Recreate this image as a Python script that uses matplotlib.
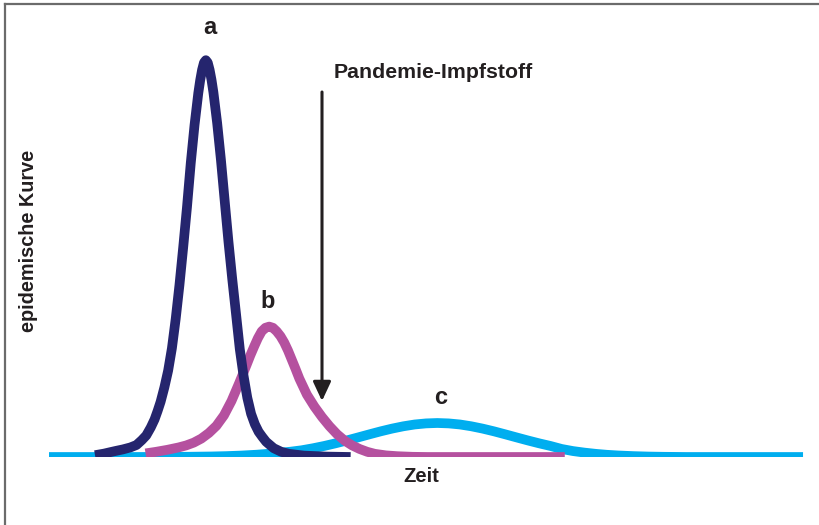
import matplotlib
matplotlib.use("Agg")
import matplotlib.pyplot as plt
from matplotlib.lines import Line2D
from matplotlib.patches import FancyArrowPatch

plt.rcParams['font.family'] = ['Liberation Sans', 'DejaVu Sans']

# Curve a (early, steep epidemic)
time_a = [6.1, 7.3, 8.1, 8.8, 9.8, 10.8, 11.6, 12.3, 12.9, 13.5,
          14.0, 14.4, 14.8, 15.3, 15.8, 16.3, 16.8, 17.3, 17.8, 18.3,
          18.8, 19.3, 19.8, 20.05, 20.3, 20.55, 20.8, 21.05,
          21.3, 21.55, 21.8, 22.3, 22.8, 23.3, 23.8, 24.3, 24.8, 25.3, 25.8, 26.3,
          26.8, 27.3, 27.8, 28.3, 28.8, 29.8, 30.8, 31.8, 33.8, 36.8, 40.0]
curve_a = [0.45, 0.85, 1.2, 1.5, 1.9, 2.4, 3.0, 4.2, 5.4, 7.4,
           9.4, 11.5, 13.8, 17.4, 21.6, 27.2, 34.5, 43.0, 52.5, 62.5,
           73.5, 83.0, 91.0, 94.2, 96.8, 98.6, 99.2, 98.6,
           96.8, 94.3, 91.2, 83.5, 74.3, 64.0, 53.8, 44.5, 35.8, 27.0, 20.3, 14.8,
           10.8, 8.2, 6.3, 5.0, 3.8, 2.2, 1.3, 0.8, 0.35, 0.1, 0.0]

# Curve b (delayed, flatter epidemic)
time_b = [12.8, 14.2, 15.7, 17.2, 18.2, 19.2, 20.2, 21.2, 22.2, 23.2,
          24.2, 25.2, 25.7, 26.2, 26.7, 27.2, 27.7, 28.2, 28.7, 29.2, 29.7, 30.2,
          30.7, 31.2, 31.7, 32.2, 32.7, 33.2,
          34.2, 35.2, 36.2, 37.2, 38.2, 39.2, 40.2, 41.2,
          42.2, 43.2, 44.7, 46.2, 48.2, 50.2, 55, 62, 68.4]
curve_b = [0.9, 1.3, 1.8, 2.4, 2.9, 3.6, 4.6, 6.0, 7.8, 10.4,
           14.0, 18.4, 20.7, 23.0, 25.4, 27.6, 29.7, 31.4, 32.3, 32.6, 32.3, 31.4,
           30.2, 28.6, 26.6, 24.3, 22.0, 19.6,
           15.6, 12.6, 10.0, 7.7, 5.7, 4.1, 2.9, 2.0,
           1.3, 0.8, 0.4, 0.2, 0.05, 0.0, 0.0, 0.0, 0.0]

# Curve c (after pandemic vaccine, very flat)
time_c = [0, 11.5, 15.5, 18.5, 21.5, 23.5, 25.5, 27.5,
          29, 30.5, 32, 33.5, 35, 36.5, 38, 39.5, 41, 42.5, 44, 45.5, 47, 48.5, 50, 51.5,
          53, 54.5, 56, 57.5, 59, 60.5, 62, 63.5, 65, 66.5, 68, 69.5, 71, 72.5, 74, 75.5,
          77.5, 79.5, 81.5, 84.5, 100]
curve_c = [0, 0, 0.03, 0.06, 0.13, 0.22, 0.36, 0.57,
           0.79, 1.04, 1.32, 1.68, 2.18, 2.76, 3.42, 4.14, 4.9, 5.67, 6.42, 7.1, 7.68, 8.13, 8.4, 8.5,
           8.4, 8.13, 7.68, 7.1, 6.42, 5.67, 4.9, 4.14, 3.42, 2.76, 2.0, 1.48, 1.1, 0.79, 0.55, 0.38,
           0.22, 0.11, 0.05, 0, 0]

labels = ["a", "b", "c"]
label_pos = [(21.3, 107.3), (29.0, 39.0), (51.9, 14.8)]

W, H = 820, 525
fig = plt.figure(figsize=(W / 100, H / 100), dpi=100)
base_px = 457
ax = fig.add_axes([0, 1 - base_px / H, 1, base_px / H])
ax.set_xlim(-6.5, 102.25)
ax.set_ylim(0, base_px / 4)
ax.axis('off')

NAVY = "#25256E"
MAGENTA = "#B5519F"
CYAN = "#00AEEF"
lw = 7.0

ax.plot(time_c, curve_c, color=CYAN, lw=lw, solid_capstyle='butt',
        solid_joinstyle='round', zorder=2)
ax.plot(time_b, curve_b, color=MAGENTA, lw=lw, solid_capstyle='butt',
        solid_joinstyle='round', zorder=3)
ax.plot(time_a, curve_a, color=NAVY, lw=lw, solid_capstyle='butt',
        solid_joinstyle='round', zorder=4)

for lab, (tx, ty) in zip(labels, label_pos):
    ax.text(tx, ty, lab, ha='center', va='center', fontsize=17,
            fontweight='bold', color="#231F20", clip_on=False)

def fx(px):
    return px / W

def fy(py):
    return 1 - py / H

fig.text(fx(433), fy(72), "Pandemie-Impfstoff", ha='center', va='center',
         fontsize=15.3, fontweight='bold', color="#231F20")
fig.add_artist(FancyArrowPatch(
    (fx(322), fy(92)), (fx(322), fy(401)), transform=fig.transFigure,
    arrowstyle='-|>,head_length=0.58,head_width=0.27', mutation_scale=20,
    lw=2.2, color="#231F20", shrinkA=0, shrinkB=0))

fig.text(fx(421), fy(477), "Zeit", ha='center', va='center', fontsize=14.5,
         fontweight='bold', color="#231F20")
fig.text(fx(29), fy(241), "epidemische Kurve", ha='center', va='center',
         rotation=90, fontsize=14.3, fontweight='bold', color="#231F20")

# Frame lines (left and top only)
fig.add_artist(Line2D([fx(5.5), fx(5.5)], [0, fy(3.5)], transform=fig.transFigure,
                      color="#6B6B6B", lw=1.6))
fig.add_artist(Line2D([fx(5.5), 1], [fy(3.5), fy(3.5)], transform=fig.transFigure,
                      color="#6B6B6B", lw=1.6))

fig.savefig("out.png", dpi=100, facecolor="white")
